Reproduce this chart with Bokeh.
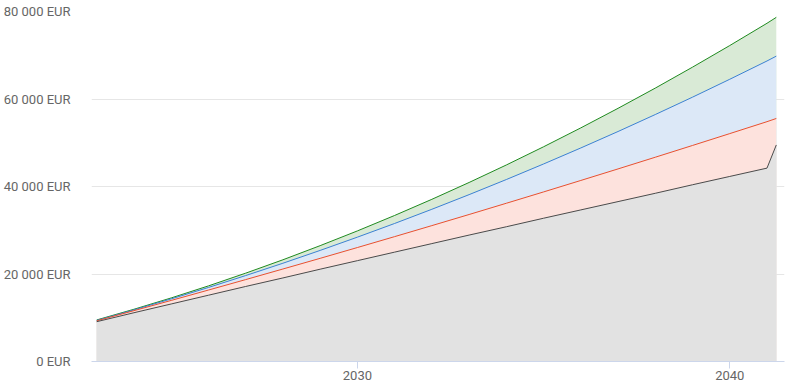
from bokeh.plotting import figure
from bokeh.models import Range1d, FixedTicker, CustomJSTickFormatter
from bokeh.embed import file_html
from bokeh.resources import INLINE

# ---- data ----
years = [2023, 2024, 2025, 2026, 2027, 2028, 2029, 2030, 2031, 2032,
         2033, 2034, 2035, 2036, 2037, 2038, 2039, 2040, 2041, 2041.25]
base = [9100, 11150, 13150, 15150, 17150, 19100, 21100, 23050, 25000, 26950,
        28900, 30800, 32750, 34650, 36550, 38450, 40400, 42300, 44200, 49500]
red = [9300, 11620, 13960, 16330, 18720, 21140, 23580, 26050, 28540, 31060,
       33600, 36170, 38760, 41380, 44020, 46690, 49380, 52090, 54820, 55550]
blue = [9400, 11800, 14310, 16920, 19640, 22460, 25390, 28420, 31550, 34790,
        38140, 41590, 45150, 48810, 52570, 56450, 60420, 64510, 68690, 69800]
green = [9500, 11940, 14530, 17280, 20190, 23250, 26480, 29850, 33380, 37070,
         40920, 44920, 49080, 53400, 57870, 62490, 67280, 72220, 77310, 78670]
y_ticks = [0, 20000, 40000, 60000, 80000]
x_ticks = [2030, 2040]

p = figure(width=785, height=387, output_backend="svg", toolbar_location=None,
           min_border_left=90, min_border_right=1, min_border_top=11, min_border_bottom=26)
p.x_range = Range1d(2022.86, 2041.47)
p.y_range = Range1d(0, 80000)
p.outline_line_color = None
p.background_fill_color = "white"
p.border_fill_color = "white"

series = [
    (green, "#d9ead6", "#1f8a1f"),
    (blue, "#dce8f7", "#3b80d2"),
    (red, "#fde2dd", "#e8502f"),
    (base, "#e2e2e2", "#4a4a4a"),
]
for ys, fill, _ in series:
    p.varea(x=years, y1=[0] * len(years), y2=ys, fill_color=fill, fill_alpha=1.0)
for ys, _, line in series:
    p.line(x=years, y=ys, line_color=line, line_width=1)

# axes
p.xaxis.ticker = FixedTicker(ticks=x_ticks)
p.yaxis.ticker = FixedTicker(ticks=y_ticks)
p.xaxis.minor_tick_line_color = None
p.yaxis.minor_tick_line_color = None
p.yaxis.axis_line_color = None
p.yaxis.major_tick_line_color = None
p.yaxis.major_label_standoff = 15
p.yaxis.formatter = CustomJSTickFormatter(
    code="return Math.round(tick).toString().replace(/\\B(?=(\\d{3})+(?!\\d))/g, ' ') + ' EUR';")
p.xaxis.axis_line_color = "#ccd6eb"
p.xaxis.major_tick_line_color = "#ccd6eb"
p.xaxis.major_tick_out = 7
p.xaxis.major_tick_in = 0
p.xaxis.major_label_standoff = 2
for ax in (p.xaxis, p.yaxis):
    ax.major_label_text_font = "Roboto"
    ax.major_label_text_font_size = "13px"
    ax.major_label_text_color = "#666666"

p.xgrid.grid_line_color = None
p.ygrid.ticker = FixedTicker(ticks=y_ticks[1:])
p.ygrid.grid_line_color = "#e6e6e6"
p.ygrid.grid_line_width = 1

open("out.html", "w").write(file_html(p, INLINE))
